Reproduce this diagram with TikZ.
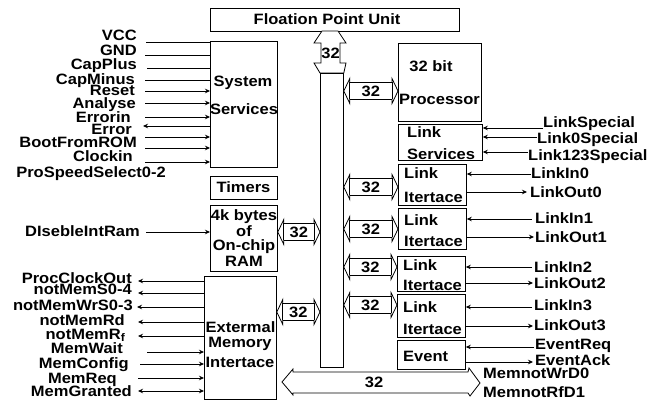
\documentclass[tikz,border=0pt]{standalone}
\usepackage{fontspec}
\setmainfont{Liberation Sans}[FakeStretch=1.1]
\usetikzlibrary{arrows.meta,calc}
\tikzset{
  lbl/.style={font=\fontsize{15}{15}\selectfont\bfseries, inner sep=0pt, text height=10.7pt, text depth=0pt},
  blk/.style={draw, line width=0.8pt},
  bx/.style={blk, anchor=north west, inner sep=0pt},
  sig/.style={line width=0.8pt},
  noarr/.style={},
  tobox/.style={-{Stealth[length=5pt,width=4.5pt]}},
  tofree/.style={{Stealth[length=5pt,width=4.5pt]}-},
  twoway/.style={{Stealth[length=5pt,width=4.5pt]}-{Stealth[length=5pt,width=4.5pt]}}
}
\newcommand\hbus[3]{%
  \coordinate (#3l) at #1; \coordinate (#3r) at #2;
  \draw[blk,fill=white] (#3l) -- ++(6,-12.5) -- ++(0,4) -- ([shift={(-6,-8.5)}]#3r) -- ++(0,-4) -- (#3r)
     -- ++(-6,12.5) -- ++(0,-4) -- ([shift={(6,8.5)}]#3l) -- ++(0,4) -- cycle;
  \draw[blk] ([shift={(6,-8.5)}]#3l) -- ([shift={(6,8.5)}]#3l);
  \draw[blk] ([shift={(-6,-8.5)}]#3r) -- ([shift={(-6,8.5)}]#3r);
  \node[lbl] (#3) at ($(#3l)!0.5!(#3r)$) {32};
}
\begin{document}
\begin{tikzpicture}[x=1pt,y=-1pt]
\useasboundingbox (0,0) rectangle (664,403);

% boxes
\node[bx, minimum width=249, minimum height=23] (fpu) at (210,8) {};
\node[bx, minimum width=67, minimum height=126] (ss) at (210,41) {};
\node[bx, minimum width=67, minimum height=23] (tim) at (210,176) {};
\node[bx, minimum width=67, minimum height=66] (ram) at (210,205) {};
\node[bx, minimum width=72, minimum height=123] (emi) at (204,276) {};
\node[bx, minimum width=83, minimum height=78] (proc) at (398,43) {};
\node[bx, minimum width=84, minimum height=36] (lsv) at (398,124) {};
\node[bx, minimum width=68, minimum height=41] (li0) at (398,164) {};
\node[bx, minimum width=68, minimum height=41] (li1) at (398,208) {};
\node[bx, minimum width=68, minimum height=35] (li2) at (397,256) {};
\node[bx, minimum width=68, minimum height=43] (li3) at (397,294) {};
\node[bx, minimum width=68, minimum height=29] (ev) at (397,340) {};
\node[bx, minimum width=23, minimum height=294] (vb) at (320,73) {};

% box texts
\node[lbl] (tfpu) at (327,19.5) {Floation Point Unit};
\node[lbl] (tss1) at (243,81) {System};
\node[lbl] (tss2) at (244,109) {Services};
\node[lbl] (ttim) at (243.5,187.5) {Timers};
\node[lbl] (tram1) at (244,215) {4k bytes};
\node[lbl] (tram2) at (244,231) {of};
\node[lbl] (tram3) at (244,245) {On-chip};
\node[lbl] (tram4) at (244,261) {RAM};
\node[lbl] (temi1) at (240.5,327) {Extermal};
\node[lbl] (temi2) at (240,342) {Memory};
\node[lbl] (temi3) at (240,362) {Intertace};
\node[lbl] (tproc1) at (431,66) {32 bit};
\node[lbl,anchor=west] (tproc2) at (399,99) {Processor};
\node[lbl,anchor=west] (tlsv1) at (407,132) {Link};
\node[lbl,anchor=west] (tlsv2) at (407,154) {Services};
\node[lbl,anchor=west] (tli0a) at (404,173) {Link};
\node[lbl,anchor=west] (tli0b) at (404,197) {Itertace};
\node[lbl,anchor=west] (tli1a) at (404,220) {Link};
\node[lbl,anchor=west] (tli1b) at (404,241) {Itertace};
\node[lbl,anchor=west] (tli2a) at (403,265) {Link};
\node[lbl,anchor=west] (tli2b) at (403,285) {Itertace};
\node[lbl,anchor=west] (tli3a) at (403,307) {Link};
\node[lbl,anchor=west] (tli3b) at (403,329) {Itertace};
\node[lbl,anchor=west] (tev) at (403,356) {Event};

% FPU double arrow onto the bus
\draw[blk,fill=white] (322,31) -- (338,31) -- (346,43) -- (340,43) -- (340,63) -- (346,63) -- (vb.north east)
  -- (vb.north west) -- (314,63) -- (321,63) -- (321,43) -- (314,43) -- cycle;
\node[lbl] (tfb) at (330.5,53) {32};

% horizontal buses
\hbus{(vb.east |- 0,91)}{(proc.west |- 0,91)}{bproc}
\hbus{(vb.east |- 0,187)}{(li0.west |- 0,187)}{bli0}
\hbus{(vb.east |- 0,229)}{(li1.west |- 0,229)}{bli1}
\hbus{(vb.east |- 0,267)}{(li2.west |- 0,267)}{bli2}
\hbus{(vb.east |- 0,305)}{(li3.west |- 0,305)}{bli3}
\hbus{(ram.east |- 0,232)}{(vb.west |- 0,232)}{bram}
\hbus{(emi.east |- 0,312)}{(vb.west |- 0,312)}{bemi}

% bottom bus
\draw[blk] (282,382) -- (293,369) -- (293,372) -- (468,372) -- (469,368) -- (480,383) -- (470,396)
  -- (468,393) -- (293,393) -- (293,395) -- cycle;
\node[lbl] (tbb) at (374,382) {32};
\node[lbl,anchor=west] (mwd) at (483,373) {MemnotWrD0};
\node[lbl,anchor=west] (mrd) at (483,392) {MemnotRfD1};

% system services signals
\foreach \n/\x/\y/\t in {1/137/35/VCC, 2/137/50/GND, 3/137/64/CapPlus, 4/135/79/CapMinus,
  5/135/90/Reset, 6/136/103/Analyse, 7/131/117/Errorin, 8/132/129/Error,
  9/137/142/BootFromROM, 10/133/156/Clockin, 11/166/172/ProSpeedSelect0-2}
  {\node[lbl,anchor=east] (l\n) at (\x,\y) {\t};}
\foreach \n/\x/\y/\st in {1/146/42/noarr, 2/145/55/noarr, 3/147/68/noarr, 4/145/80/noarr,
  5/145/91/tobox, 6/145/103/tobox, 7/145/117/tobox, 8/143/126/tofree,
  9/145/137/tobox, 10/145/148/tobox, 11/145/162/tobox}
  {\coordinate (s\n) at (\x,\y); \draw[sig,\st] (s\n) -- (ss.west |- s\n);}

% RAM signal
\node[lbl,anchor=east] (lram) at (140,231) {DIsebleIntRam};
\coordinate (sram) at (146,232);
\draw[sig,tobox] (sram) -- (ram.west |- sram);

% memory interface signals
\foreach \n/\x/\y/\t in {1/132/278/ProcClockOut, 2/132/289/notMemS0-4, 3/133/305/notMemWrS0-3,
  4/125/320/notMemRd, 5/125/334/{notMemR\raisebox{-2.5pt}{\fontsize{11}{11}\selectfont f}},
  6/123/348/MemWait, 7/129/363/MemConfig, 8/117/378/MemReq, 9/132/391/MemGranted}
  {\node[lbl,anchor=east] (m\n) at (\x,\y) {\t};}
\foreach \n/\x/\y/\st in {1/138/281/tofree, 2/138/293/tofree, 3/137/307/tofree, 4/138/322/tofree,
  5/138/336/tofree, 6/147/352/tobox, 7/140/364/tobox, 8/138/378/tobox, 9/138/391/twoway}
  {\coordinate (e\n) at (\x,\y); \draw[sig,\st] (e\n) -- (emi.west |- e\n);}

% right side signals
\foreach \n/\x/\y/\t in {1/543/122/LinkSpecial, 2/537/138/Link0Special, 3/528/155/Link123Special,
  4/531/173/LinkIn0, 5/530/192/LinkOut0, 6/535/218/LinkIn1, 7/535/237/LinkOut1,
  8/534/267/LinkIn2, 9/534/283/LinkOut2, 10/534/305/LinkIn3, 11/534/325/LinkOut3,
  12/535/344/EventReq, 13/535/360/EventAck}
  {\node[lbl,anchor=west] (r\n) at (\x,\y) {\t};}
\foreach \n/\b/\x/\y/\st in {1/lsv/543/128/tobox, 2/lsv/537/137/tobox, 3/lsv/528/152/tobox,
  4/li0/531/174/tobox, 5/li0/527/192/tofree, 6/li1/532/219/tobox, 7/li1/534/237/tofree,
  8/li2/532/267/tobox, 9/li2/533/283/tofree, 10/li3/532/307/tobox, 11/li3/533/326/tofree,
  12/ev/534/347/tobox, 13/ev/533/362/tofree}
  {\coordinate (q\n) at (\x,\y); \draw[sig,\st] (q\n) -- (\b.east |- q\n);}
\end{tikzpicture}
\end{document}
